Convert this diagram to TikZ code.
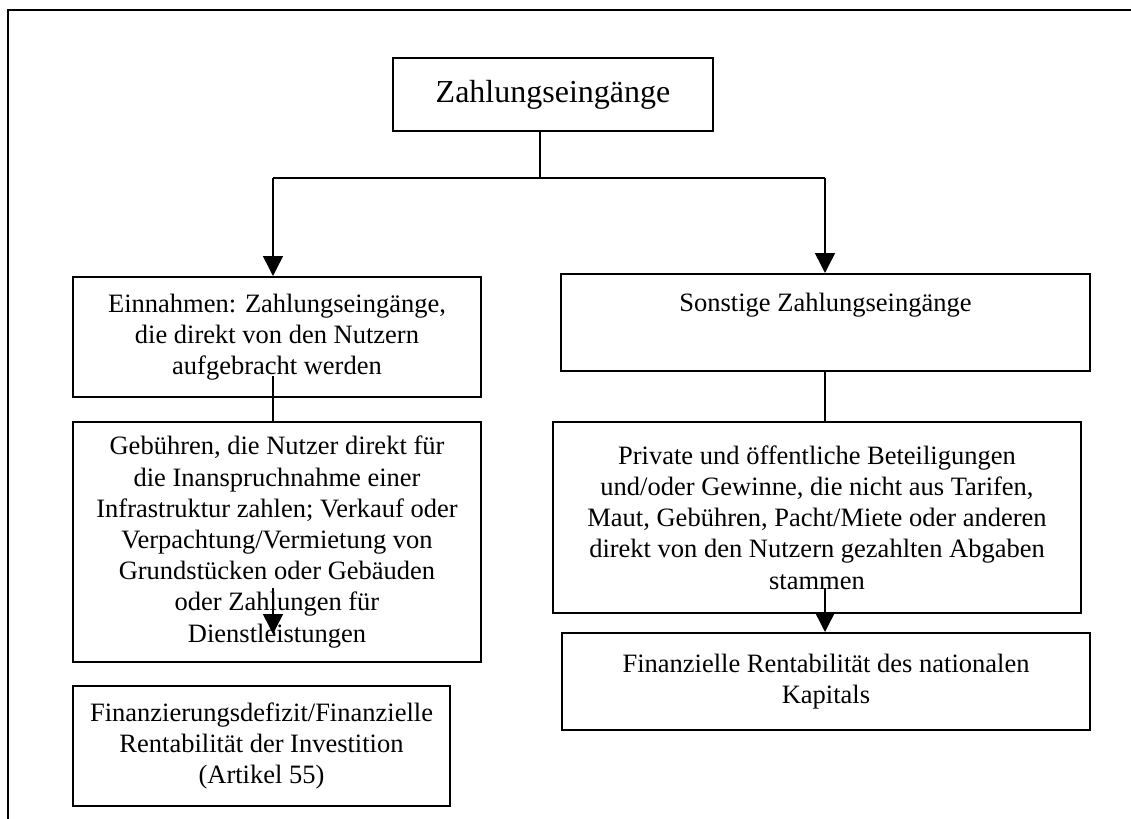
\documentclass[tikz,border=0pt]{standalone}
\usepackage{fontspec}
\setmainfont{Liberation Serif}
\usepackage{tikz}
\usetikzlibrary{arrows.meta,calc}

\begin{document}
\begin{tikzpicture}[x=0.5pt, y=-0.5pt, >={Triangle[length=10pt,width=10pt]},
    box/.style={draw, line width=1pt, align=center, inner sep=0pt,
                font=\fontsize{13.25}{15.6}\selectfont},
    link/.style={line width=0.75pt}]
  \useasboundingbox (0,0) rectangle (1131,819);
  % frame, cut off right and below
  \draw[line width=1pt] (8,819) -- (8,10) -- (1131,10);

  \node[box, minimum width=160pt, minimum height=36.5pt,
        font=\fontsize{16}{19}\selectfont] (top) at (553,94.5) {Zahlungseingänge};
  \node[box, minimum width=204pt, minimum height=60pt] (ein) at (277,337)
    {Einnahmen: Zahlungseingänge,\\die direkt von den Nutzern\\aufgebracht werden};
  \node[box, minimum width=204pt, minimum height=120pt] (geb) at (277,542)
    {Gebühren, die Nutzer direkt für\\die Inanspruchnahme einer\\Infrastruktur zahlen; Verkauf oder\\Verpachtung/Vermietung von\\Grundstücken oder Gebäuden\\oder Zahlungen für\\Dienstleistungen};
  \node[box, minimum width=188.5pt, minimum height=60pt] (fin) at (261.5,746)
    {Finanzierungsdefizit/Finanzielle\\Rentabilität der Investition\\(Artikel 55)};
  \node[box, minimum width=264.5pt, minimum height=48.5pt] (son) at (825.5,322.5)
    {Sonstige Zahlungseingänge\\[5pt]\mbox{}};
  \node[box, minimum width=264pt, minimum height=95.5pt] (priv) at (817,517.5)
    {Private und öffentliche Beteiligungen\\und/oder Gewinne, die nicht aus Tarifen,\\Maut, Gebühren, Pacht/Miete oder anderen\\direkt von den Nutzern gezahlten Abgaben\\stammen};
  \node[box, minimum width=264pt, minimum height=48.5pt] (kap) at (826,681.5)
    {Finanzielle Rentabilität des nationalen\\Kapitals};

  \coordinate (hub) at (540,178);
  \coordinate (l) at (273,178);
  \coordinate (r) at (825,178);
  \coordinate (lin) at ($(ein.south -| l)+(0,11pt)$);
  \coordinate (lfrom) at ($(geb.south -| l)+(0,37.5pt)$);
  \coordinate (lto) at ($(geb.south -| l)+(0,14.5pt)$);
  \coordinate (rin) at ($(priv.south -| r)+(0,13pt)$);

  \draw[link] (top.south -| hub) -- (hub);
  \draw[link] (l) -- (r);
  \draw[link, ->] (l) -- (ein.north -| l);
  \draw[link, ->] (r) -- (son.north -| r);
  \draw[link] (lin) -- (geb.north -| l);
  \draw[link, ->] (lfrom) -- (lto);
  \draw[link] (son.south -| r) -- (priv.north -| r);
  \draw[link, ->] (rin) -- (kap.north -| r);
\end{tikzpicture}
\end{document}
